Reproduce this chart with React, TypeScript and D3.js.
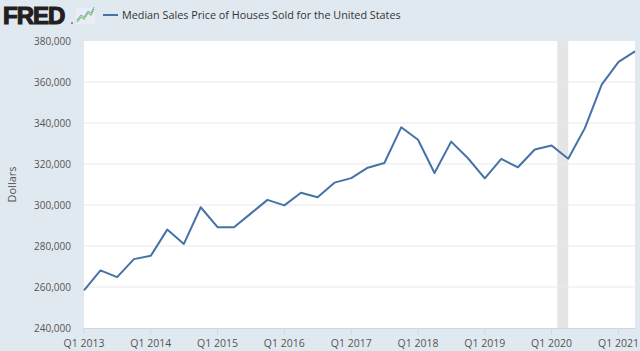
import React from "react";
import * as d3 from "d3";

const quarters: string[] = [
  "2013-01-01","2013-04-01","2013-07-01","2013-10-01",
  "2014-01-01","2014-04-01","2014-07-01","2014-10-01",
  "2015-01-01","2015-04-01","2015-07-01","2015-10-01",
  "2016-01-01","2016-04-01","2016-07-01","2016-10-01",
  "2017-01-01","2017-04-01","2017-07-01","2017-10-01",
  "2018-01-01","2018-04-01","2018-07-01","2018-10-01",
  "2019-01-01","2019-04-01","2019-07-01","2019-10-01",
  "2020-01-01","2020-04-01","2020-07-01","2020-10-01",
  "2021-01-01","2021-04-01",
];
const prices: number[] = [
  258400, 268100, 264800, 273600,
  275200, 288000, 281000, 298900,
  289200, 289100, 295800, 302500,
  299800, 306000, 303800, 310900,
  313100, 318200, 320500, 337900,
  331800, 315600, 330900, 322800,
  313000, 322500, 318400, 327100,
  329000, 322600, 337500, 358700,
  369800, 374900,
];
const yTicks: number[] = [240000, 260000, 280000, 300000, 320000, 340000, 360000, 380000];
const xTickYears: number[] = [2013, 2014, 2015, 2016, 2017, 2018, 2019, 2020, 2021];
const recession: string[] = ["2020-02-01", "2020-04-01"];
const title = "Median Sales Price of Houses Sold for the United States";

export default function App() {
  const W = 640, H = 351;
  const left = 84, right = 635, top = 41, bottom = 328;
  const parse = d3.utcParse("%Y-%m-%d");
  const dates = quarters.map((q) => parse(q) as Date);
  const x = d3.scaleUtc().domain([dates[0], dates[dates.length - 1]]).range([left, right]);
  const y = d3.scaleLinear().domain([240000, 380000]).range([bottom, top]);
  const line = d3.line<number>().x((_, i) => x(dates[i])).y((d) => y(d));
  const fmt = d3.format(",");
  const font = "'Open Sans', sans-serif";
  const r0 = x(parse(recession[0]) as Date), r1 = x(parse(recession[1]) as Date);
  return (
    <svg width={W} height={H} style={{ position: "absolute", left: 0, top: 0 }}>
      <rect x={0} y={0} width={W} height={H} fill="#e1e9f0" />
      <rect x={left} y={top} width={right - left} height={bottom - top} fill="#ffffff" />
      <rect x={r0} y={top} width={r1 - r0} height={bottom - top} fill="#e5e5e5" />
      {yTicks.slice(1, -1).map((t) => (
        <line key={t} x1={left} x2={right} y1={y(t)} y2={y(t)} stroke="#e9e9e9" strokeWidth={1} />
      ))}
      <line x1={left} x2={right} y1={bottom + 0.5} y2={bottom + 0.5} stroke="#ccd6eb" strokeWidth={1} />
      {xTickYears.map((yr) => {
        const xx = x(new Date(Date.UTC(yr, 0, 1)));
        return (
          <g key={yr}>
            <line x1={xx} x2={xx} y1={bottom} y2={bottom + 6} stroke="#ccd6eb" strokeWidth={1} />
            <text x={xx} y={347} textAnchor="middle" fontFamily={font} fontSize={10.5} fill="#555">{`Q1 ${yr}`}</text>
          </g>
        );
      })}
      {yTicks.map((t) => (
        <text key={t} x={71} y={y(t) + 4} textAnchor="end" fontFamily={font} fontSize={10} fill="#555">{fmt(t)}</text>
      ))}
      <text transform={`translate(16,${(top + bottom) / 2}) rotate(-90)`} textAnchor="middle" fontFamily={font} fontSize={11} fill="#555">Dollars</text>
      <path d={line(prices) || ""} fill="none" stroke="#4572a7" strokeWidth={2} strokeLinejoin="round" />
      <text x={3} y={24} fontFamily="'Liberation Sans', Arial, sans-serif" fontWeight="bold" fontSize={24} fill="#231f20" stroke="#231f20" strokeWidth={1.2} letterSpacing={-1}>FRED</text>
      <circle cx={72} cy={23} r={0.8} fill="#231f20" />
      <g>
        <rect x={76} y={8} width={19} height={16} fill="#e8eef3" />
        <polyline points="77,22 81,17 84,19 88,13 91,15 94,9" fill="none" stroke="#8fc27b" strokeWidth={1.3} />
        <polyline points="77,20 81,15 84,17 88,11 91,13 94,7" fill="none" stroke="#7fa3cc" strokeWidth={1} />
      </g>
      <line x1={103} x2={118} y1={15} y2={15} stroke="#4572a7" strokeWidth={2} />
      <text x={122} y={19} fontFamily={font} fontSize={10.8} fill="#333">{title}</text>
    </svg>
  );
}
